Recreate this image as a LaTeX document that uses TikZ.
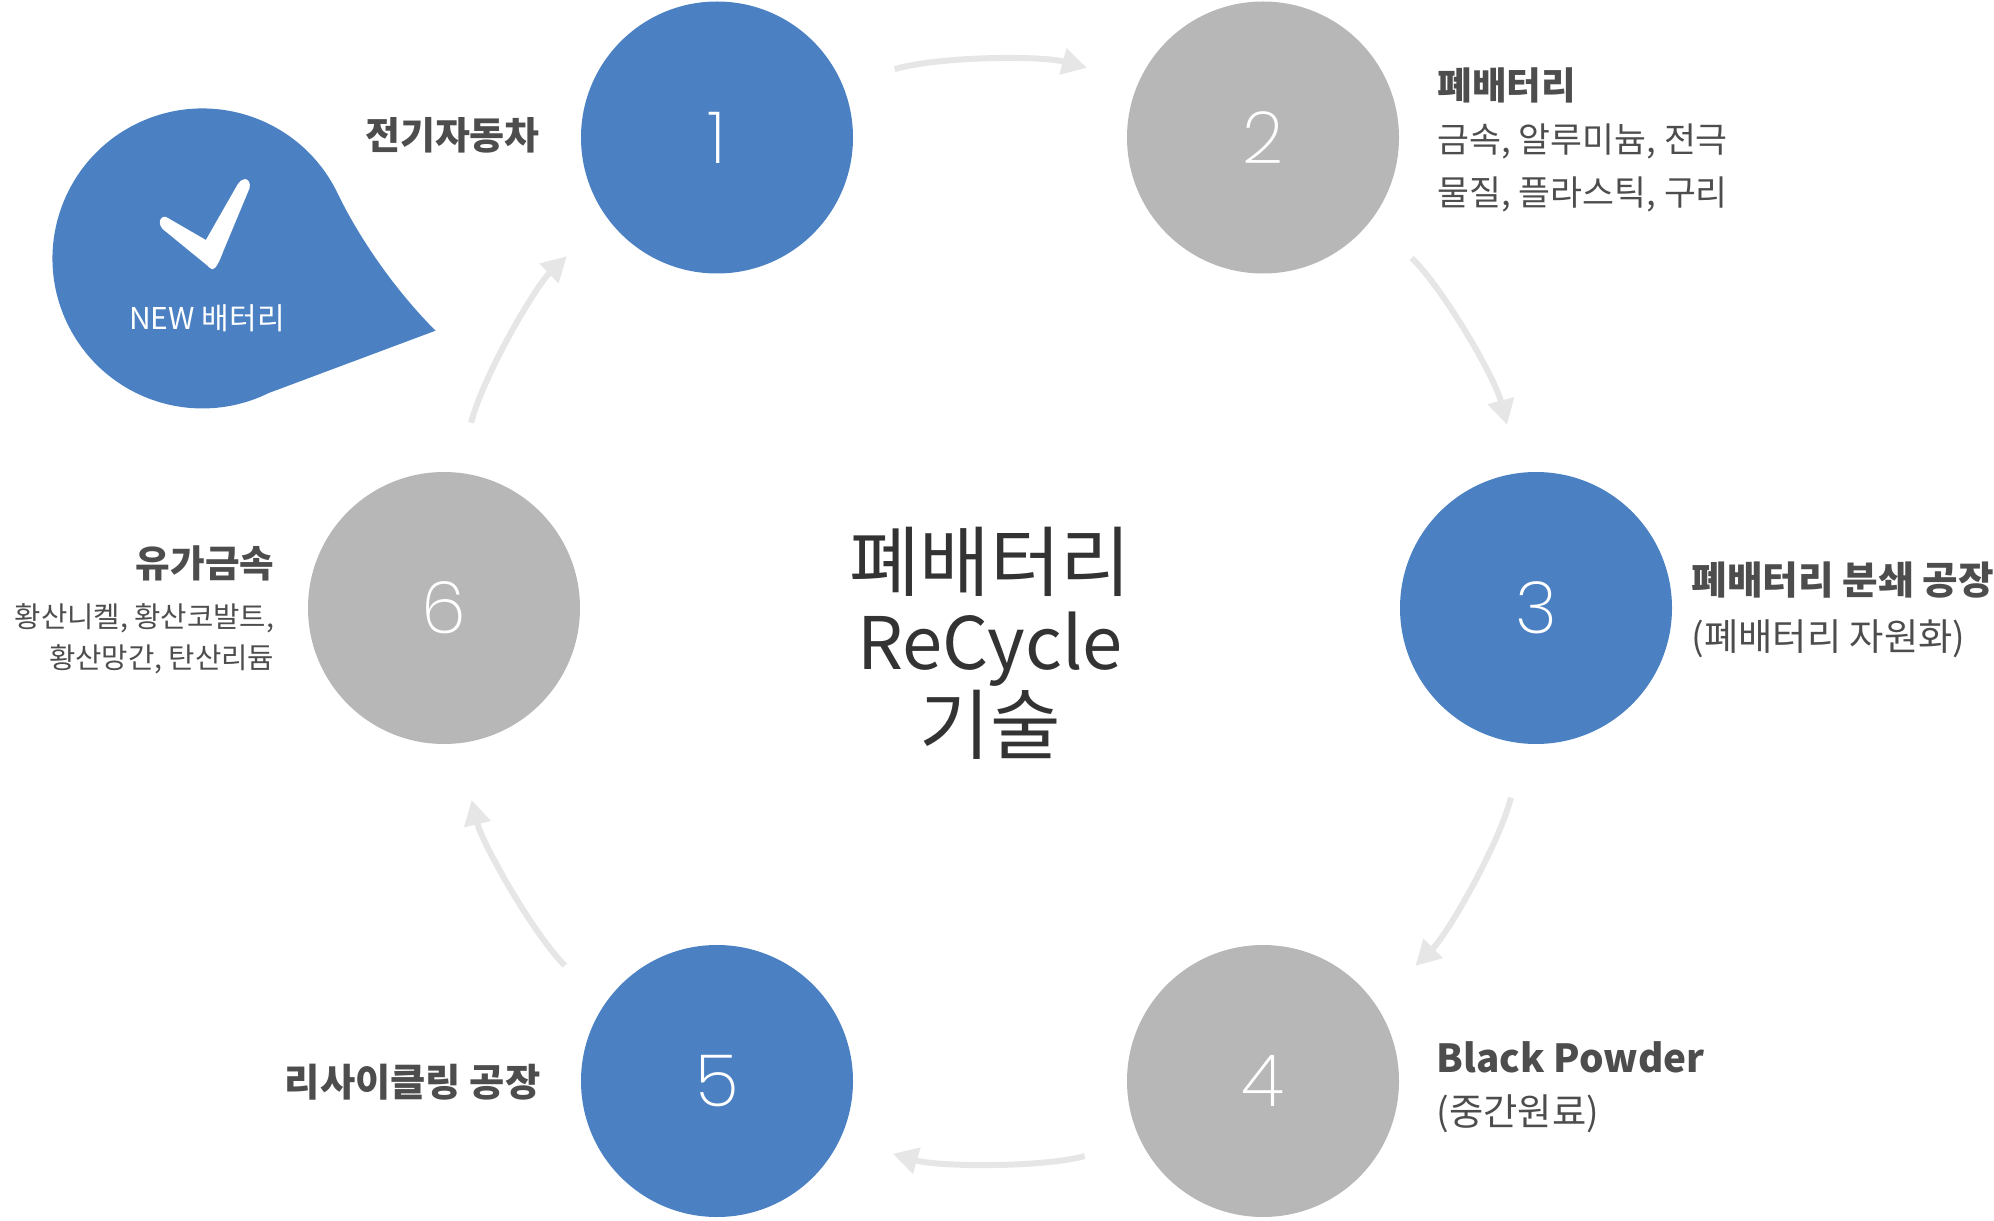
\documentclass[tikz,border=0pt]{standalone}
\usepackage{fontspec}
\usetikzlibrary{arrows.meta}
\setmainfont{Noto Sans CJK KR}
\newfontfamily\numfont{Poppins ExtraLight}
\definecolor{discblue}{HTML}{4B81C3}
\definecolor{discgray}{HTML}{B7B7B7}
\definecolor{flowgray}{HTML}{E6E6E6}
\definecolor{labelgray}{HTML}{4D4D4D}
\definecolor{titlegray}{HTML}{333333}
\newcommand{\lblhead}[2][11]{{\fontsize{#1}{15}\selectfont\bfseries #2}}
\tikzset{
	disc/.style={circle, minimum size=2.72cm, inner sep=0pt, text=white, font=\numfont\fontsize{20.5}{24}\selectfont},
	bluedisc/.style={disc, fill=discblue},
	graydisc/.style={disc, fill=discgray},
	flow/.style={-{Triangle[length=0.25cm, width=0.26cm]}, flowgray, line width=0.06cm, bend left=15.7, looseness=0.868, shorten <=0.55cm, shorten >=0.55cm},
	lbl/.style={inner sep=0pt, text=labelgray, font=\fontsize{10.6}{15}\selectfont},
	lblbold/.style={inner sep=0pt, text=labelgray, font=\fontsize{10.8}{15}\selectfont\bfseries}
}

\begin{document}
\begin{tikzpicture}
	\useasboundingbox (0,0) rectangle (19.94,12.2);

	\fill[discblue] (3.373,10.273) arc[start angle=26, end angle=296.2, radius=1.5] -- (4.355,8.893) .. controls (3.95,9.3) and (3.59,9.82) .. (3.373,10.273) -- cycle;
	\fill[white] (2.449,10.41) .. controls (2.48,10.41) and (2.51,10.37) .. (2.495,10.317) -- (2.231,9.683) .. controls (2.2,9.6) and (2.16,9.507) .. (2.124,9.507) .. controls (2.11,9.507) and (2.09,9.53) .. (2.067,9.55) -- (1.626,9.91) .. controls (1.59,9.95) and (1.59,10.0) .. (1.62,10.025) .. controls (1.64,10.04) and (1.66,10.035) .. (1.684,10.017) -- (2.059,9.80) -- (2.373,10.35) .. controls (2.4,10.39) and (2.425,10.41) .. (2.449,10.41) -- cycle;
	\node[inner sep=0pt, text=white, font=\fontsize{8.55}{11}\selectfont] (newbat) at (2.07,9.02) {NEW 배터리};

	\node[bluedisc] (n1) at (7.17,10.825) {1};
	\node[graydisc] (n2) at (12.63,10.825) {2};
	\node[bluedisc] (n3) at (15.36,6.12) {3};
	\node[graydisc] (n4) at (12.63,1.39) {4};
	\node[bluedisc] (n5) at (7.17,1.39) {5};
	\node[graydisc] (n6) at (4.44,6.12) {6};

	\draw[flow, shorten <=0.54cm, shorten >=0.53cm] (n1.23.6) to (n2.156.8);
	\draw[flow, shorten >=0.49cm] (n2.-37.2) to (n3.97.4);
	\draw[flow] (n3.-95.5) to (n4.34.6);
	\draw[flow, shorten <=0.575cm, shorten >=0.54cm] (n4.-154.6) to (n5.-25.4);
	\draw[flow, shorten >=0.575cm] (n5.146.3) to (n6.-84.5);
	\draw[flow, shorten <=0.51cm] (n6.84.5) to (n1.-144.4);

	\node[align=center, inner sep=0pt, text=titlegray, font=\fontsize{21.8}{22.6}\selectfont] (title) at (9.9,5.77) {폐배터리\\{\fontsize{20.6}{22.6}\selectfont ReCycle}\\기술};

	\node[lblbold, anchor=east] (t1) at (5.405,10.85) {전기자동차};
	\node[lbl, anchor=west, align=left, font=\fontsize{9.87}{15}\selectfont] (t2) at (14.37,10.8) {\lblhead[10.7]{폐배터리}\\금속, 알루미늄, 전극\\물질, 플라스틱, 구리};
	\node[lbl, anchor=west, align=left] (t3) at (16.91,6.1) {\lblhead{폐배터리 분쇄 공장}\\[0.9pt](폐배터리 자원화)};
	\node[lbl, anchor=west, align=left] (t4) at (14.36,1.33) {\lblhead{Black Powder}\\(중간원료)};
	\node[lblbold, anchor=east, font=\fontsize{10.9}{15}\selectfont\bfseries] (t5) at (5.41,1.38) {리사이클링 공장};
	\node[lbl, anchor=east, align=right, font=\fontsize{8.15}{11.7}\selectfont] (t6) at (2.75,6.1) {\lblhead[10.7]{유가금속}\\[2.4pt]황산니켈, 황산코발트,\\황산망간, 탄산리듐};
\end{tikzpicture}
\end{document}
